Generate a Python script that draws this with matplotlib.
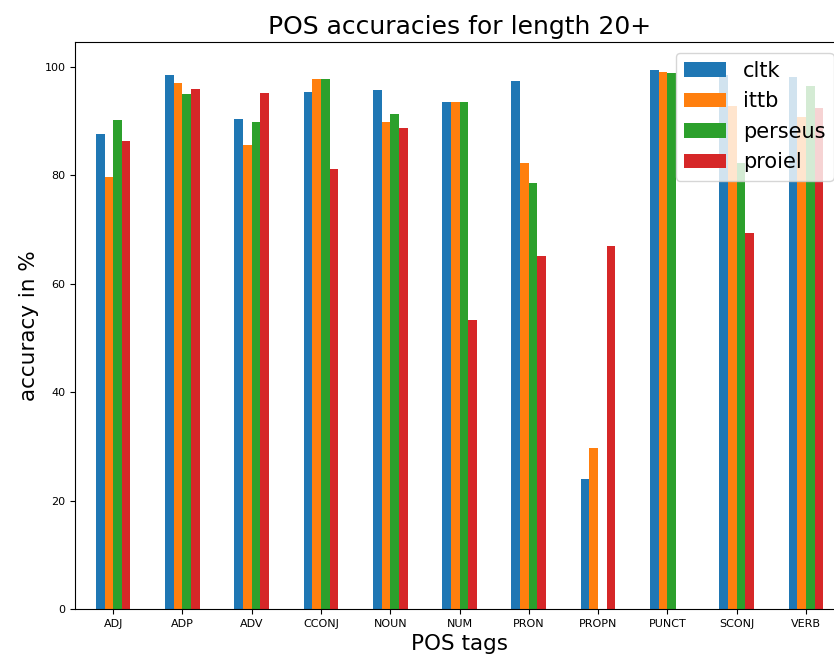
import matplotlib
matplotlib.use("Agg")
import matplotlib.pyplot as plt
import numpy as np

tags = ["ADJ", "ADP", "ADV", "CCONJ", "NOUN", "NUM", "PRON", "PROPN", "PUNCT", "SCONJ", "VERB"]
cltk = [87.5, 98.5, 90.4, 95.4, 95.6, 93.4, 97.4, 23.9, 99.4, 98.5, 98.0]
ittb = [79.7, 96.9, 85.6, 97.8, 89.7, 93.4, 82.3, 29.7, 99.1, 92.8, 90.8]
perseus = [90.1, 95.0, 89.7, 97.8, 91.2, 93.4, 78.6, 0.0, 98.9, 82.3, 96.5]
proiel = [86.2, 95.8, 95.2, 81.2, 88.6, 53.2, 65.0, 66.9, 0.0, 69.4, 92.3]

series = [("cltk", cltk, "#1f77b4"), ("ittb", ittb, "#ff7f0e"),
          ("perseus", perseus, "#2ca02c"), ("proiel", proiel, "#d62728")]

fig = plt.figure(figsize=(8.34, 6.70), dpi=100)
# axes run slightly past the right edge, as in the cropped original
ax = fig.add_axes([0.09, 0.091, 0.922, 0.846])

x = np.arange(len(tags))
w = 0.125
for i, (name, vals, col) in enumerate(series):
    ax.bar(x - 0.25 + w / 2 + i * w, vals, width=w, color=col, label=name)

ax.set_xlim(-0.55, 10.55)
ax.set_ylim(0, 104.5)
ax.set_xticks(x)
ax.set_xticklabels(tags, fontsize=8)
ax.tick_params(axis="y", labelsize=8)
ax.set_xlabel("POS tags", fontsize=15.5)
ax.set_ylabel("accuracy in %", fontsize=15.5)
ax.set_title("POS accuracies for length 20+", fontsize=18)
ax.legend(loc="upper right", fontsize=15)

fig.savefig("out.png", dpi=100)
